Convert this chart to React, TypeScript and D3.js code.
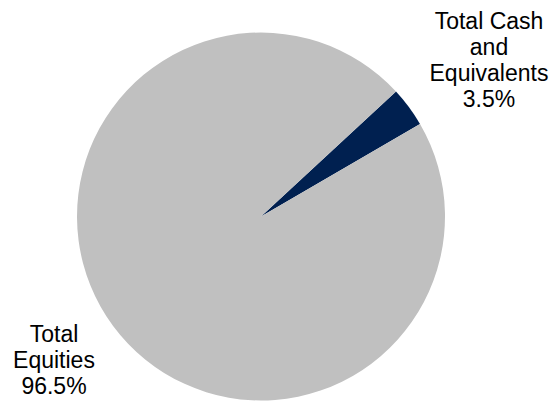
import React, { useEffect, useRef } from 'react';
import * as d3 from 'd3';

const categories = ['Total Cash and Equivalents', 'Total Equities'];
const values = [3.5, 96.5];
const labelLines = [
  ['Total Cash', 'and', 'Equivalents', '3.5%'],
  ['Total', 'Equities', '96.5%'],
];
const colors = ['#002050', '#c0c0c0'];

interface Slice {
  name: string;
  value: number;
}

const App: React.FC = () => {
  const ref = useRef<SVGSVGElement>(null);

  useEffect(() => {
    if (!ref.current) return;
    const svg = d3.select(ref.current);
    svg.selectAll('*').remove();

    const width = 551;
    const height = 402;
    const cx = 261;
    const cy = 216.5;
    const radius = 184;

    const data: Slice[] = categories.map((name, i) => ({ name, value: values[i] }));

    const start = (47.2 * Math.PI) / 180;
    const pie = d3
      .pie<Slice>()
      .sort(null)
      .value((d) => d.value)
      .startAngle(start)
      .endAngle(start + 2 * Math.PI);

    const arc = d3.arc<d3.PieArcDatum<Slice>>().innerRadius(0).outerRadius(radius);

    const color = d3.scaleOrdinal<string, string>().domain(categories).range(colors);

    const g = svg.attr('width', width).attr('height', height).append('g').attr('transform', `translate(${cx},${cy})`);

    g.selectAll('path')
      .data(pie(data))
      .enter()
      .append('path')
      .attr('d', arc)
      .attr('fill', (d) => color(d.data.name));

    // label anchors (centre x, first baseline y)
    const anchors = [
      { x: 489, y: 29 },
      { x: 54, y: 342 },
    ];

    labelLines.forEach((lines, i) => {
      const text = svg
        .append('text')
        .attr('text-anchor', 'middle')
        .style('font-family', '"Liberation Sans", Arial, sans-serif')
        .style('font-size', '23px')
        .attr('fill', '#000');
      lines.forEach((line, j) => {
        text
          .append('tspan')
          .attr('x', anchors[i].x)
          .attr('y', anchors[i].y + j * 26)
          .text(line);
      });
    });
  }, []);

  return (
    <svg
      ref={ref}
      style={{ position: 'absolute', top: 0, left: 0, display: 'block', background: '#fff' }}
    />
  );
};

export default App;
